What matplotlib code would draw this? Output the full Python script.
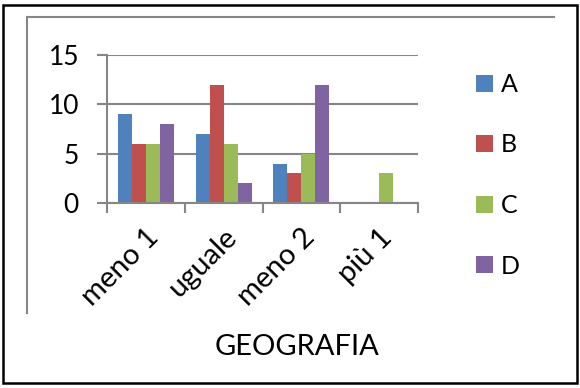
import matplotlib
matplotlib.use("Agg")
import matplotlib.pyplot as plt
import numpy as np
from matplotlib.transforms import ScaledTranslation
from matplotlib.patches import Rectangle
from matplotlib.lines import Line2D

categories = ["meno 1", "uguale", "meno 2", "più 1"]
series_names = ["A", "B", "C", "D"]
values_A = [9, 7, 4, 0]
values_B = [6, 12, 3, 0]
values_C = [6, 6, 5, 3]
values_D = [8, 2, 12, 0]
colors = ["#4F81BD", "#C0504D", "#9BBB59", "#8064A2"]
yticks = [0, 5, 10, 15]
xlabel = "GEOGRAFIA"

plt.rcParams['font.family'] = ['Lato', 'DejaVu Sans']
W, H = 580, 388
fig = plt.figure(figsize=(W / 100, H / 100), dpi=100)

def px(x0, y0, x1, y1):
    return [x0 / W, 1 - y1 / H, (x1 - x0) / W, (y1 - y0) / H]

ax = fig.add_axes(px(107, 55, 418, 203))
gray = "#868686"
x = np.arange(len(categories))
bw = 0.18
all_vals = [values_A, values_B, values_C, values_D]
for i, (name, vals, c) in enumerate(zip(series_names, all_vals, colors)):
    ax.bar(x + (i - 1.5) * bw, vals, width=bw, color=c, label=name, zorder=3)

ax.set_xlim(-0.5, len(categories) - 0.5)
ax.set_ylim(0, 15)
ax.set_yticks(yticks)
ax.yaxis.grid(True, color=gray, linewidth=1.5, zorder=0)
ax.set_axisbelow(True)
for s in ["top", "right"]:
    ax.spines[s].set_visible(False)
for s in ["left", "bottom"]:
    ax.spines[s].set_color(gray)
    ax.spines[s].set_linewidth(1.5)
    ax.spines[s].set_zorder(4)
ax.tick_params(axis="y", direction="out", length=7.2, width=1.5, color=gray,
               labelsize=19, pad=13)
ax.set_xticks(np.arange(len(categories) + 1) - 0.5)
ax.set_xticklabels([])
ax.tick_params(axis="x", which="major", direction="out", length=7.2, width=1.5, color=gray)
ax.set_xticks(x, minor=True)
ax.set_xticklabels(categories, minor=True, rotation=45, ha="right",
                   rotation_mode="anchor", fontsize=21, va="center")
ax.tick_params(axis="x", which="minor", length=0, pad=22)
off = ScaledTranslation(9 / 100, 0, fig.dpi_scale_trans)
for lab in ax.get_xticklabels(minor=True):
    lab.set_transform(lab.get_transform() + off)

handles, labels = ax.get_legend_handles_labels()
fig.legend(handles, labels, loc="upper left",
           bbox_to_anchor=(476 / W, 1 - 73 / H), frameon=False,
           fontsize=18, handlelength=0.66, handleheight=0.66,
           handletextpad=0.33, labelspacing=1.5, borderpad=0, borderaxespad=0)

fig.text(297 / W, 1 - 347 / H, xlabel, ha="center", va="center", fontsize=21)

# chart frame decorations
fig.add_artist(Line2D([27 / W, 554 / W], [1 - 17 / H, 1 - 17 / H], color=gray, lw=1.5,
                      transform=fig.transFigure))
fig.add_artist(Line2D([27 / W, 27 / W], [1 - 17 / H, 1 - 313 / H], color=gray, lw=1.5,
                      transform=fig.transFigure))
fig.add_artist(Rectangle((3 / W, 1 - 383 / H), 574 / W, 378 / H, fill=False,
                         edgecolor="black", lw=1.8, transform=fig.transFigure))

fig.savefig("out.png", dpi=100)
